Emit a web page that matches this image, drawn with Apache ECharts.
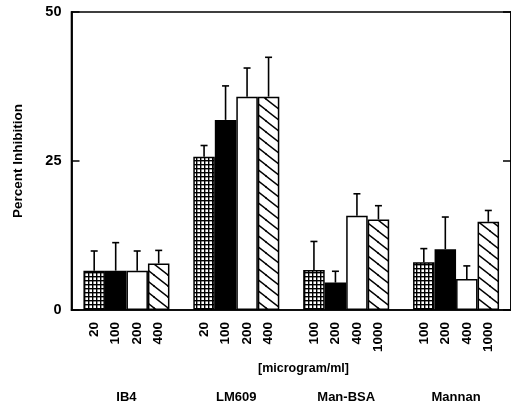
<!DOCTYPE html>
<html>
<head>
<meta charset="utf-8">
<script src="https://cdn.jsdelivr.net/npm/echarts@6/dist/echarts.min.js"></script>
<style>
html,body{margin:0;padding:0;background:#fff;}
#c{width:511px;height:406px;}
</style>
</head>
<body>
<div id="c"></div>
<script>
// ---- data ----
const groups = ['IB4', 'LM609', 'Man-BSA', 'Mannan'];
const doseLabels = [
  ['20', '100', '200', '400'],
  ['20', '100', '200', '400'],
  ['100', '200', '400', '1000'],
  ['100', '200', '400', '1000']
];
// percent inhibition per dose level (series) across groups
const dose1 = [6.6, 25.7, 6.7, 8.0];
const dose2 = [6.6, 31.9, 4.6, 10.2];
const dose3 = [6.6, 35.8, 15.8, 5.2];
const dose4 = [7.8, 35.8, 15.2, 14.8];
// upper error (SD) per dose level across groups
const err1 = [3.3, 1.9, 4.8, 2.3];
const err2 = [4.7, 5.7, 1.9, 5.4];
const err3 = [3.3, 4.8, 3.7, 2.2];
const err4 = [2.2, 6.6, 2.3, 1.9];
const yTicks = [0, 25, 50];
const unitLabel = '[microgram/ml]';
const yTitle = 'Percent Inhibition';

// ---- patterns ----
function crossHatch() {
  const c = document.createElement('canvas');
  c.width = 4; c.height = 4;
  const g = c.getContext('2d');
  g.fillStyle = '#fff'; g.fillRect(0, 0, 4, 4);
  g.fillStyle = '#000';
  g.fillRect(0, 0, 4, 1.4);
  g.fillRect(0, 0, 1.4, 4);
  return c;
}
function diagHatch() {
  const W = 14, H = 11;
  const c = document.createElement('canvas');
  c.width = W; c.height = H;
  const g = c.getContext('2d');
  g.fillStyle = '#fff'; g.fillRect(0, 0, W, H);
  g.strokeStyle = '#000'; g.lineWidth = 1.4;
  const k = H / W;
  [[0, 0], [-W, 0], [W, 0], [0, -H], [0, H]].forEach(([dx, dy]) => {
    g.beginPath();
    g.moveTo(dx - 2, dy - 2 * k);
    g.lineTo(dx + W + 2, dy + H + 2 * k);
    g.stroke();
  });
  return c;
}

const BAR_W = 21.5;
const FONT = '"Liberation Sans", Arial, Helvetica, sans-serif';
const fills = [
  { image: crossHatch(), repeat: 'repeat' },
  '#000',
  '#fff',
  { image: diagHatch(), repeat: 'repeat' }
];
const values = [dose1, dose2, dose3, dose4];
const errs = [err1, err2, err3, err4];

const series = [];
values.forEach((vals, s) => {
  series.push({
    type: 'bar',
    data: vals,
    barWidth: BAR_W,
    barGap: '0%',
    itemStyle: { color: fills[s], borderColor: '#000', borderWidth: 1.5 },
    label: {
      show: true,
      position: 'bottom',
      distance: 12,
      rotate: 90,
      align: 'right',
      verticalAlign: 'middle',
      fontFamily: FONT,
      fontWeight: 'bold',
      fontSize: 13.5,
      color: '#000',
      formatter: p => doseLabels[p.dataIndex][s]
    },
    z: 2
  });
});
values.forEach((vals, s) => {
  series.push({
    type: 'custom',
    data: vals.map((v, i) => [i, v, v + errs[s][i]]),
    renderItem: function (params, api) {
      const base = api.coord([api.value(0), api.value(1)]);
      const top = api.coord([api.value(0), api.value(2)]);
      const x = base[0] + (s - 1.5) * BAR_W;
      const cap = 3.5;
      return {
        type: 'group',
        children: [
          { type: 'line', shape: { x1: x, y1: base[1], x2: x, y2: top[1] }, style: { stroke: '#000', lineWidth: 1.6 } },
          { type: 'line', shape: { x1: x - cap, y1: top[1], x2: x + cap, y2: top[1] }, style: { stroke: '#000', lineWidth: 1.6 } }
        ]
      };
    },
    z: 3,
    silent: true
  });
});

const chart = echarts.init(document.getElementById('c'), null, { renderer: 'canvas' });
chart.setOption({
  animation: false,
  backgroundColor: '#fff',
  grid: {
    left: 71.5, top: 12, width: 444, bottom: 96,
    show: true, borderColor: '#000', borderWidth: 1.6, backgroundColor: 'transparent'
  },
  xAxis: {
    type: 'category',
    data: groups,
    axisLine: { show: true, lineStyle: { color: '#000', width: 1.6 } },
    axisTick: { show: false },
    axisLabel: { margin: 81, fontFamily: FONT, fontWeight: 'bold', fontSize: 13, color: '#000' }
  },
  yAxis: [{
    type: 'value',
    min: yTicks[0], max: yTicks[yTicks.length - 1], interval: 25,
    name: yTitle,
    nameLocation: 'middle',
    nameGap: 46,
    nameTextStyle: { fontFamily: FONT, fontWeight: 'bold', fontSize: 13.5, color: '#000' },
    axisLine: { show: true, lineStyle: { color: '#000', width: 1.8 } },
    axisTick: { show: true, inside: true, length: 8, lineStyle: { color: '#000', width: 1.5 } },
    axisLabel: { margin: 10, fontFamily: FONT, fontWeight: 'bold', fontSize: 14.5, color: '#000' },
    splitLine: { show: false }
  }, {
    type: 'value',
    position: 'right',
    min: yTicks[0], max: yTicks[yTicks.length - 1], interval: 25,
    axisLine: { show: true, lineStyle: { color: '#000', width: 1.6 } },
    axisTick: { show: true, inside: true, length: 8, lineStyle: { color: '#000', width: 1.5 } },
    axisLabel: { show: false },
    splitLine: { show: false }
  }],
  graphic: [{
    type: 'text',
    left: 258, top: 362,
    style: { text: unitLabel, font: 'bold 12.5px ' + FONT, fill: '#000' }
  }],
  series: series
});
</script>
</body>
</html>
